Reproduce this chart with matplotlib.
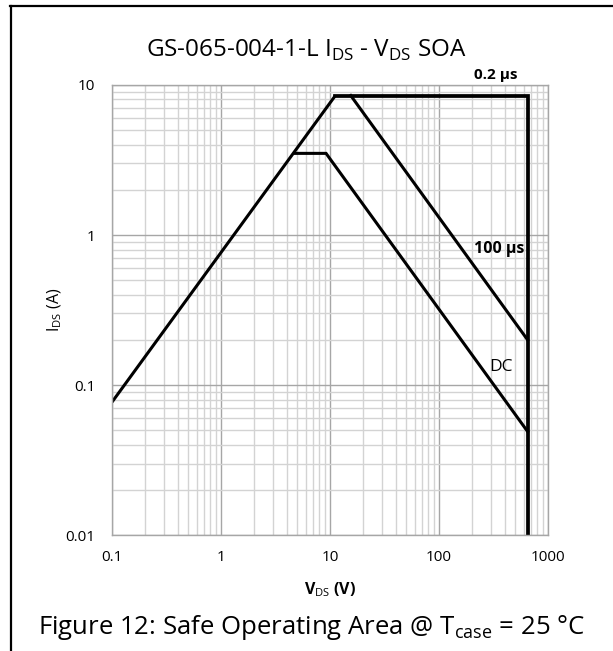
import matplotlib
matplotlib.use("Agg")
import matplotlib.pyplot as plt
from matplotlib.lines import Line2D
from matplotlib.ticker import LogLocator, NullFormatter, FixedFormatter, FixedLocator

plt.rcParams.update({
    "font.family": ["Open Sans", "DejaVu Sans"],
    "mathtext.fontset": "custom",
    "mathtext.rm": "Open Sans",
    "mathtext.bf": "Open Sans:bold",
})

# Rds(on) limited line
ron_v = [0.1, 11.2]
ron_i = [0.077, 8.5]
# 0.2 us pulse: current limit, then voltage limit
pulse_v = [11.2, 650, 650]
pulse_i = [8.5, 8.5, 0.01]
# 100 us pulse
p100_v = [15.5, 650]
p100_i = [8.5, 0.2]
# DC
dc_v = [4.8, 9.2, 650]
dc_i = [3.5, 3.5, 0.049]

x_ticks = [0.1, 1, 10, 100, 1000]
x_labels = ["0.1", "1", "10", "100", "1000"]
y_ticks = [0.01, 0.1, 1, 10]
y_labels = ["0.01", "0.1", "1", "10"]

fig = plt.figure(figsize=(6.13, 6.51), dpi=100)
ax = fig.add_axes([0.1827, 0.178, 0.7113, 0.6915])

ax.set_xscale("log")
ax.set_yscale("log")
ax.set_xlim(0.1, 1000)
ax.set_ylim(0.01, 10)

ax.xaxis.set_major_locator(FixedLocator(x_ticks))
ax.xaxis.set_major_formatter(FixedFormatter(x_labels))
ax.yaxis.set_major_locator(FixedLocator(y_ticks))
ax.yaxis.set_major_formatter(FixedFormatter(y_labels))
ax.xaxis.set_minor_locator(LogLocator(base=10, subs=range(2, 10), numticks=20))
ax.yaxis.set_minor_locator(LogLocator(base=10, subs=range(2, 10), numticks=20))
ax.xaxis.set_minor_formatter(NullFormatter())
ax.yaxis.set_minor_formatter(NullFormatter())
ax.tick_params(which="both", length=0, labelsize=11, colors="black")
ax.tick_params(axis="x", pad=11)
ax.tick_params(axis="y", pad=12)

ax.grid(which="major", color="#a6a6a6", lw=1.0)
ax.grid(which="minor", color="#d3d3d3", lw=1.0)
ax.set_axisbelow(True)
for s in ax.spines.values():
    s.set_color("#a6a6a6")
    s.set_linewidth(1.0)

lw = 2.2
ax.plot(ron_v, ron_i, color="black", lw=lw, solid_capstyle="butt")
ax.plot(pulse_v, pulse_i, color="black", lw=2.7, solid_joinstyle="miter")
ax.plot(p100_v, p100_i, color="black", lw=lw)
ax.plot(dc_v, dc_i, color="black", lw=lw, solid_joinstyle="miter")

ax.text(330, 11.7, "0.2 µs", ha="center", va="center", fontsize=11,
        fontweight="bold", clip_on=False)
ax.text(355, 0.81, "100 µs", ha="center", va="center", fontsize=11.5,
        fontweight="bold")
ax.text(370, 0.132, "DC", ha="center", va="center", fontsize=12.5)

ax.set_xlabel(r"V$_{\rm DS}$ (V)", fontsize=11.5, fontweight="bold", labelpad=11)
ax.set_ylabel(r"I$_{\rm DS}$ (A)", fontsize=11.5, labelpad=1)

fig.text(0.5, 0.922, r"GS-065-004-1-L I$_{\rm DS}$ - V$_{\rm DS}$ SOA",
         ha="center", va="center", fontsize=17.5)
fig.text(0.508, 0.036, r"Figure 12: Safe Operating Area @ T$_{\rm case}$ = 25 °C",
         ha="center", va="center", fontsize=18.5)

# table cell border
fig.add_artist(Line2D([11 / 613, 11 / 613], [0, 1 - 6 / 651], color="black",
                      lw=1.6, transform=fig.transFigure))
fig.add_artist(Line2D([10 / 613, 1], [1 - 6 / 651, 1 - 6 / 651], color="black",
                      lw=1.6, transform=fig.transFigure))

fig.savefig("out.png", dpi=100)
